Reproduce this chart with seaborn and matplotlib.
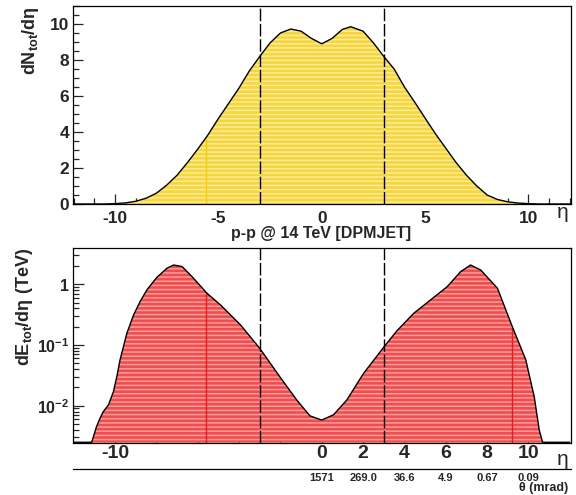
import numpy as np
import pandas as pd
import matplotlib
matplotlib.use('Agg')
import matplotlib.pyplot as plt
import seaborn as sns
from matplotlib.ticker import MultipleLocator, FixedLocator, FixedFormatter, LogLocator, NullFormatter

# ---------------- data ----------------
eta_mult = [-12, -10.5, -10, -9.5, -9, -8.5, -8, -7.5, -7, -6.5, -6, -5.5, -5, -4.5, -4,
            -3.5, -3, -2.5, -2, -1.5, -1, -0.5, 0, 0.5, 1, 1.4, 2, 2.5, 3, 3.5, 4, 4.5,
            5, 5.5, 6, 6.5, 7, 7.5, 8, 8.5, 9, 9.5, 10, 10.5, 12]
dn_deta = [0, 0, 0.02, 0.06, 0.15, 0.32, 0.6, 1.05, 1.6, 2.3, 3.05, 3.85, 4.75, 5.6, 6.45,
           7.4, 8.2, 8.95, 9.5, 9.72, 9.6, 9.2, 8.9, 9.2, 9.7, 9.85, 9.6, 8.95, 8.2, 7.5, 6.5, 5.65,
           4.77, 3.9, 3.1, 2.3, 1.6, 1.0, 0.5, 0.25, 0.12, 0.05, 0.02, 0, 0]

eta_energy = [-12, -11.13, -10.9, -10.73, -10.57, -10.32, -10.08, -9.9, -9.76, -9.43, -9.11,
              -8.79, -8.46, -7.98, -7.49, -7.17, -6.76, -6.28, -5.55, -4.9, -3.93, -3.0,
              -2.03, -1.21, -0.57, 0, 0.57, 1.21, 2.02, 3.04, 3.64, 4.45, 5.26, 6.07, 6.72,
              7.2, 7.69, 8.5, 9.22, 9.87, 10.28, 10.52, 10.68, 12]
de_deta = [0.0025, 0.0025, 0.0045, 0.0062, 0.0080, 0.0103, 0.017, 0.032, 0.057, 0.156, 0.31,
           0.52, 0.81, 1.30, 1.84, 2.08, 1.96, 1.34, 0.71, 0.457, 0.214, 0.088,
           0.030, 0.0124, 0.0068, 0.0058, 0.0071, 0.0124, 0.034, 0.096, 0.172, 0.333, 0.552, 0.915, 1.62,
           2.08, 1.72, 0.86, 0.20, 0.057, 0.014, 0.004, 0.0025, 0.0025]

top_xticks = [-10, -5, 0, 5, 10]
top_yticks = [0, 2, 4, 6, 8, 10]
bottom_xticks = [-10, -8, -6, -4, -2, 0, 2, 4, 6, 8, 10]
bottom_xticklabels = ['-10', '', '', '', '', '0', '2', '4', '6', '8', '10']
bottom_yticks = [0.01, 0.1, 1]
bottom_yticklabels = [r'$\mathbf{10^{-2}}$', r'$\mathbf{10^{-1}}$', r'$\mathbf{1}$']
theta_eta = [0, 2, 4, 6, 8, 10]
theta_labels = ['1571', '269.0', '36.6', '4.9', '0.67', '0.09']
eta_cuts = [-3, 3]
seam_top = [-5.58]
seam_bottom = [-5.58, 9.22]
title = 'p-p @ 14 TeV [DPMJET]'

# ---------------- style ----------------
sns.set_theme(style='white')
plt.rcParams['font.family'] = ['Liberation Sans', 'DejaVu Sans']
plt.rcParams['font.weight'] = 'bold'
plt.rcParams['axes.unicode_minus'] = False
plt.rcParams['mathtext.fontset'] = 'custom'
plt.rcParams['mathtext.rm'] = 'Liberation Sans'
plt.rcParams['mathtext.bf'] = 'Liberation Sans:bold'
plt.rcParams['mathtext.it'] = 'Liberation Sans'
plt.rcParams['hatch.linewidth'] = 1.1
plt.rcParams['axes.linewidth'] = 0.9

yellow_face = '#F6D73A'
yellow_hatch = '#FBEAA0'
red_face = '#F04E4E'
red_hatch = '#F89C9C'

XLIM = (-12.02, 12.06)

fig = plt.figure(figsize=(5.76, 4.95), dpi=100)
ax1 = fig.add_axes([0.1273, 0.5879, 0.8641, 0.4000])
ax2 = fig.add_axes([0.1273, 0.1057, 0.8641, 0.3927])
ax3 = fig.add_axes([0.1273, 0.0525, 0.8641, 0.0001])

df_top = pd.DataFrame({'eta': eta_mult, 'dN': dn_deta})
df_bot = pd.DataFrame({'eta': eta_energy, 'dE': de_deta})

# ---------------- top panel ----------------
ax1.fill_between(df_top['eta'], 0, df_top['dN'], facecolor=yellow_face,
                 edgecolor=yellow_hatch, hatch='----', linewidth=0, zorder=1)
ax1.vlines(seam_top, 0, np.interp(seam_top, eta_mult, dn_deta), color='#F2CC10', lw=1.0, zorder=2)
sns.lineplot(data=df_top, x='eta', y='dN', ax=ax1, color='black', lw=1.0, zorder=3)
for c in eta_cuts:
    ax1.axvline(c, color='black', lw=1.0, ls=(0, (9, 2)), zorder=4)
ax1.set_xlim(*XLIM)
ax1.set_ylim(0, 11)
ax1.set_xticks(top_xticks)
ax1.xaxis.set_minor_locator(MultipleLocator(1))
ax1.set_yticks(top_yticks)
ax1.yaxis.set_minor_locator(MultipleLocator(0.5))
ax1.tick_params(axis='both', which='both', direction='in', top=False, right=False,
                bottom=True, left=True, width=0.9)
ax1.tick_params(axis='both', which='major', length=7, labelsize=12.5)
ax1.tick_params(axis='both', which='minor', length=4)
ax1.tick_params(axis='x', which='major', pad=5)
ax1.tick_params(axis='y', which='major', pad=3)
for lab in ax1.get_xticklabels() + ax1.get_yticklabels():
    lab.set_fontweight('bold')
ax1.set_xlabel('')
ax1.set_ylabel(r'$\mathbf{dN_{tot}/d}\eta$', fontsize=13, loc='top')
ax1.yaxis.set_label_coords(-0.064, 1.0)
for s in ax1.spines.values():
    s.set_color('black')

# ---------------- bottom panel ----------------
ax2.set_yscale('log')
ax2.set_ylim(0.00246, 3.92)
ax2.fill_between(df_bot['eta'], 0.00246, df_bot['dE'], facecolor=red_face,
                 edgecolor=red_hatch, hatch='----', linewidth=0, zorder=1)
ax2.vlines(seam_bottom, 0.00246, np.interp(seam_bottom, eta_energy, de_deta), color='#E02020', lw=1.0, zorder=2)
sns.lineplot(data=df_bot, x='eta', y='dE', ax=ax2, color='black', lw=1.0, zorder=3)
for c in eta_cuts:
    ax2.axvline(c, color='black', lw=1.0, ls=(0, (9, 2)), zorder=4)
ax2.set_xlim(*XLIM)
ax2.set_xticks(bottom_xticks)
ax2.set_xticklabels(bottom_xticklabels)
ax2.yaxis.set_major_locator(FixedLocator(bottom_yticks))
ax2.yaxis.set_major_formatter(FixedFormatter(bottom_yticklabels))
ax2.yaxis.set_minor_locator(LogLocator(base=10, subs=np.arange(2, 10), numticks=20))
ax2.yaxis.set_minor_formatter(NullFormatter())
ax2.tick_params(axis='both', which='both', direction='in', top=False, right=False,
                bottom=True, left=True, width=0.9)
ax2.tick_params(axis='y', which='major', length=8, labelsize=11.5, pad=3)
ax2.tick_params(axis='y', which='minor', length=4)
ax2.tick_params(axis='x', which='major', length=6, labelsize=14, pad=2)
for lab in ax2.get_xticklabels() + ax2.get_yticklabels():
    lab.set_fontweight('bold')
ax2.set_xlabel('')
ax2.set_ylabel(r'$\mathbf{dE_{tot}/d}\eta\ \mathbf{(TeV)}$', fontsize=13, loc='top')
ax2.yaxis.set_label_coords(-0.076, 1.0)
for s in ax2.spines.values():
    s.set_color('black')

# ---------------- theta axis ----------------
ax3.set_facecolor('none')
for side in ['left', 'right', 'top']:
    ax3.spines[side].set_visible(False)
ax3.spines['bottom'].set_color('black')
ax3.set_xlim(*XLIM)
ax3.set_yticks([])
ax3.set_xticks(theta_eta)
ax3.set_xticklabels(theta_labels)
ax3.xaxis.set_minor_locator(FixedLocator([0]))
ax3.tick_params(axis='x', which='major', length=0, labelsize=8, pad=3)
ax3.tick_params(axis='x', which='minor', direction='in', length=5, width=0.9, bottom=True)
for lab in ax3.get_xticklabels():
    lab.set_fontweight('bold')

# ---------------- texts ----------------
fig.text(0.977, 0.570, 'η', fontsize=15, fontweight='normal', ha='center', va='center')
fig.text(0.977, 0.071, 'η', fontsize=15, fontweight='normal', ha='center', va='center')
fig.text(0.557, 0.529, title, fontsize=11.5, fontweight='bold', ha='center', va='center')
fig.text(0.987, 0.002, 'θ (mrad)', fontsize=9, fontweight='bold', ha='right', va='bottom')

fig.savefig('out.png', dpi=100, facecolor='white')
